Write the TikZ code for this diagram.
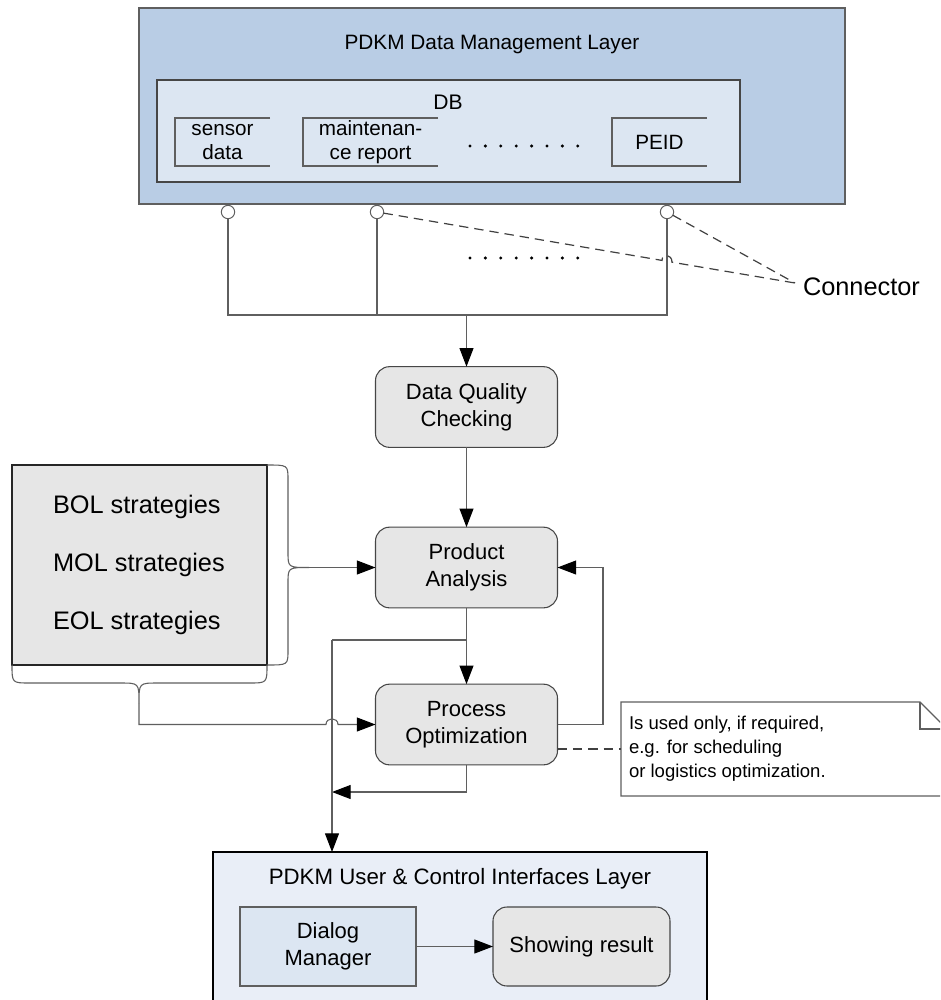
\documentclass[tikz,border=0pt]{standalone}
\usepackage{fontspec}
\setmainfont{Liberation Sans}
\usetikzlibrary{arrows.meta}

\definecolor{layerblue}{RGB}{185,205,229}
\definecolor{dbblue}{RGB}{220,230,242}
\definecolor{procgray}{RGB}{230,230,230}
\definecolor{userblue}{RGB}{233,238,247}
\definecolor{wire}{RGB}{95,95,95}
\definecolor{rim}{RGB}{70,70,70}

\begin{document}
\begin{tikzpicture}[x=0.75pt,y=-0.75pt,
  every node/.style={inner sep=0pt,outer sep=0pt},
  wire/.style={draw=wire,line width=0.8pt},
  arr/.style={wire,-{Triangle[length=14pt,width=10.5pt,color=black]}},
  leader/.style={draw=black!75,line width=0.9pt,dash pattern=on 7pt off 4.5pt},
  layer/.style={draw=wire,line width=1.5pt,fill=layerblue,minimum width=529.5pt,minimum height=147pt},
  dbbox/.style={draw=rim,line width=1.1pt,fill=dbblue,minimum width=437.25pt,minimum height=76.5pt},
  store/.style={minimum width=71.25pt,minimum height=36pt,align=center,font=\fontsize{15.5}{18}\selectfont},
  storeline/.style={draw=wire,line width=0.9pt},
  port/.style={circle,draw=wire,fill=white,line width=0.75pt,minimum size=10pt},
  proc/.style={draw=rim,line width=0.8pt,fill=procgray,rounded corners=10.5pt,
    minimum width=136.5pt,minimum height=60.5pt,align=center,font=\fontsize{16.5}{20}\selectfont},
  strat/.style={draw=black!85,line width=1.5pt,fill=procgray,minimum width=191.25pt,minimum height=150pt},
  brace/.style={draw=wire,line width=0.8pt},
  userbox/.style={draw=black,line width=1.5pt,fill=userblue,minimum width=370.5pt,minimum height=126pt},
  dmbox/.style={draw=wire,line width=0.8pt,fill=dbblue,minimum width=132pt,minimum height=59.25pt,
    align=center,font=\fontsize{16.5}{20}\selectfont},
  notebox/.style={minimum width=244.5pt,minimum height=70.5pt}
]
\clip (0,0) rectangle (940,1000);
\fill[white] (0,0) rectangle (940,1000);

% ---------- data management layer ----------
\node[layer] (dml) at (492,106) {};
\node[font=\fontsize{15.6}{18}\selectfont] (dmltitle) at (492,45) {PDKM Data Management Layer};
\node[dbbox] (db) at (448.5,131) {};
\node[font=\fontsize{15.8}{18}\selectfont] (dbtitle) at (448,102) {DB};
\node[store] (sensor) at (222.5,142) {sensor\\data};
\node[store,minimum width=101.25pt] (maint) at (370.5,142) {maintenan-\\ce report};
\node[store] (peid) at (659.5,142) {PEID};
\foreach \s in {sensor,maint,peid}
  \draw[storeline] (\s.north east) -- (\s.north west) -- (\s.south west) -- (\s.south east);
\foreach \i in {0,...,7}
  \fill (470+15.4*\i,146) circle (1.25pt);

% ---------- connectors of the layer ----------
\node[port] (p1) at (228,212) {};
\node[port] (p2) at (377,212) {};
\node[port] (p3) at (667,212) {};
\foreach \p in {p1,p2,p3}
  \draw[wire] (\p.north) -- (\p.north |- dml.south);
\coordinate (busL) at (228,315);
\coordinate (busR) at (667,315);
\coordinate (busM) at (466.5,315);
\draw[wire] (p1.south) -- (busL) -- (busR) -- (p3.south);
\draw[wire] (p2.south) -- (p2.south |- busL);
\foreach \i in {0,...,7}
  \fill (470+15.4*\i,258) circle (1.25pt);

\node[anchor=west,font=\fontsize{19}{22}\selectfont] (conn) at (803,287) {Connector};
\coordinate (cpt) at (795,283);
\draw[leader] (p3) -- (cpt);
\draw[leader] (p2) -- (662,260.4) .. controls (662,253) and (672,254) .. (672,262.2) -- (cpt);

% ---------- processing chain ----------
\node[proc] (dqc) at (466.5,407) {Data Quality\\Checking};
\node[proc] (pa) at (466.5,567.5) {Product\\Analysis};
\node[proc] (po) at (466.5,724.5) {Process\\Optimization};

\draw[arr] (busM) -- (dqc.north);
\draw[arr] (dqc) -- (pa);
\draw[arr] (pa) -- (po);

\coordinate (trunk) at (332,640);
\coordinate (merge) at (332,792);
\coordinate (loop) at (603,600);
\draw[wire] (pa.south |- trunk) -- (trunk);
\draw[arr] (po.south) |- (merge);
\draw[arr] (po.east) -| (loop |- pa.east) -- (pa.east);

% ---------- strategies ----------
\node[strat] (strat) at (139.5,565) {};
\node[anchor=west,align=left,font=\fontsize{19}{43.5}\selectfont] (strattext) at (53,565)
  {BOL strategies\\MOL strategies\\EOL strategies};
\coordinate (rtip) at (309,567.5);
\draw[brace] (strat.north east) .. controls (288,465) .. (288,480) -- (288,552)
  .. controls (288,567.5) .. (rtip) .. controls (288,567.5) .. (288,583) -- (288,650)
  .. controls (288,665) .. (strat.south east);
\draw[arr] (rtip) -- (pa.west);
\coordinate (btip) at (139,703);
\draw[brace] (strat.south west) .. controls (12,683) .. (30,683) -- (120,683)
  .. controls (139,683) .. (btip) .. controls (139,683) .. (158,683) -- (249,683)
  .. controls (267,683) .. (strat.south east);
\draw[arr] (btip) -- (btip |- po.west) -- (326,724.5)
  .. controls (326,717) and (338,717) .. (338,724.5) -- (po.west);

% ---------- note ----------
\node[notebox] (note) at (784,749) {};
\draw[draw=wire,line width=0.8pt,fill=white] (note.south east) -- (note.south west) -- (note.north west)
  -- (920,702) -- (note.north east |- 0,729) -- cycle;
\draw[draw=wire,line width=0.8pt] (920,702) -- (920,729) -- (note.north east |- 0,729);
\node[anchor=west,align=left,font=\fontsize{13.9}{18}\selectfont] (notetext) at (629,749)
  {Is used only, if required,\\e.g. for scheduling\\or logistics optimization.};
\draw[leader] (po.east |- note.west) -- (note.west);

% ---------- user and control interfaces layer ----------
\node[userbox] (user) at (460,936) {};
\node[font=\fontsize{16.7}{20}\selectfont] (usertitle) at (460,879) {PDKM User \& Control Interfaces Layer};
\node[dmbox] (dm) at (328,946.5) {Dialog\\Manager};
\node[proc,minimum width=132.75pt,minimum height=59.25pt] (sr) at (581.5,946.5) {Showing result};
\draw[arr] (dm) -- (sr);

\draw[arr] (trunk) -- (trunk |- user.north);
\end{tikzpicture}
\end{document}
